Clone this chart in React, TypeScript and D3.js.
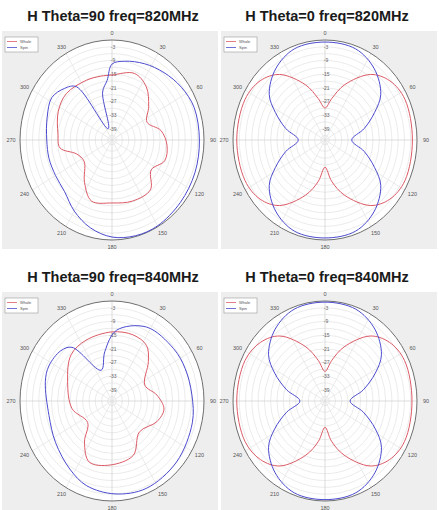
import React from "react";
import * as d3 from "d3";

const titles = [
  "H Theta=90 freq=820MHz",
  "H Theta=0 freq=820MHz",
  "H Theta=90 freq=840MHz",
  "H Theta=0 freq=840MHz",
];
const seriesNames = ["Whole", "Spin"];
const radialTicks = [-3, -9, -15, -21, -27, -33, -39];
const ringLevels = [-42, -39, -36, -33, -30, -27, -24, -21, -18, -15, -12, -9, -6, -3];
const angleTicks = [0, 30, 60, 90, 120, 150, 180, 210, 240, 270, 300, 330];
const rMin = -44;
const rMax = 0;

// Panel 1: H Theta=90, 820 MHz
const p1RedAngles = [0, 20, 35, 50, 65, 80, 95, 110, 125, 140, 160, 180, 200, 215, 235, 250, 262, 276, 296, 313, 335, 349];
const p1RedDb = [-15.4, -12.8, -15.4, -21.1, -25.5, -20.2, -17.6, -17.2, -21.1, -15.4, -15.4, -16.3, -15.4, -21.1, -27.7, -26, -18.9, -18, -15.4, -14.1, -15, -15.4];
const p1BlueAngles = [0, 10, 25, 40, 55, 70, 90, 110, 130, 150, 165, 180, 195, 210, 225, 240, 255, 270, 288, 303, 315, 324, 340, 348, 355];
const p1BlueDb = [-10.6, -8.8, -7, -5.3, -3.5, -2.2, -2.2, -1.8, -1.3, -0.4, -0.4, -1.3, -4, -7.9, -11.9, -12.8, -12.8, -12.8, -11.4, -9.7, -11.9, -15, -38.7, -22.4, -17.6];

// Panel 2: H Theta=0, 820 MHz
const p2RedAngles = [0, 10, 21, 37, 50, 65, 90, 115, 130, 143, 159, 170, 180, 190, 201, 217, 230, 245, 270, 295, 310, 323, 339, 350];
const p2RedDb = [-29.9, -25.5, -18, -7.9, -3.5, -1.8, -2.2, -1.8, -3.5, -7.9, -18, -25.5, -32, -25.5, -18, -7.9, -3.5, -1.8, -1.8, -1.8, -3.5, -7.9, -18, -25.5];
const p2BlueAngles = [0, 20, 37, 53, 63, 75, 90, 105, 117, 127, 143, 160, 180, 200, 217, 233, 243, 255, 270, 285, 297, 307, 323, 340];
const p2BlueDb = [-0.9, -1.3, -4.8, -10.6, -17.4, -24.6, -31.2, -24.6, -17.4, -10.6, -4.8, -1.3, -0.9, -1.3, -4.8, -10.6, -17.4, -24.6, -31.2, -24.6, -17.4, -10.6, -4.8, -1.3];

// Panel 3: H Theta=90, 840 MHz
const p3RedAngles = [0, 19, 34, 45, 66, 83, 98, 113, 136, 157, 182, 202, 216, 231, 260, 292, 316, 335];
const p3RedDb = [-13.6, -13.2, -14.5, -19.4, -26.8, -22.4, -18.9, -20.7, -25.1, -18, -15.8, -15, -21.6, -29, -24.6, -21.1, -15.8, -14.5];
const p3BlueAngles = [4, 27, 52, 68, 86, 104, 131, 157, 178, 198, 214, 236, 258, 285, 297, 312, 321, 339, 351];
const p3BlueDb = [-12.8, -7.5, -6.6, -6.2, -5.7, -4.4, -3.1, -2.2, -3.1, -4.8, -7.9, -11.4, -13.2, -11, -10.1, -11, -13.6, -29.5, -22];

// Panel 4: H Theta=0, 840 MHz
const p4RedAngles = [0, 10, 21, 37, 50, 65, 90, 115, 130, 143, 159, 170, 180, 190, 201, 217, 230, 245, 270, 295, 310, 323, 339, 350];
const p4RedDb = [-31, -26, -18.5, -8.2, -3.8, -2, -2.4, -2, -3.8, -8.2, -18.5, -26, -32.4, -26, -18.5, -8.2, -3.8, -1.8, -1.8, -1.8, -3.8, -8.2, -18.5, -26];
const p4BlueAngles = [0, 20, 37, 53, 63, 75, 90, 105, 117, 127, 143, 160, 180, 200, 217, 233, 243, 255, 270, 285, 297, 307, 323, 340];
const p4BlueDb = [-0.5, -1, -4.4, -10.2, -17, -25, -32, -25, -17, -10.2, -4.4, -1, -0.6, -1, -4.4, -10.2, -17, -25, -32, -25, -17, -10.2, -4.4, -1];

const panelSeries = [
  { red: [p1RedAngles, p1RedDb], blue: [p1BlueAngles, p1BlueDb] },
  { red: [p2RedAngles, p2RedDb], blue: [p2BlueAngles, p2BlueDb] },
  { red: [p3RedAngles, p3RedDb], blue: [p3BlueAngles, p3BlueDb] },
  { red: [p4RedAngles, p4RedDb], blue: [p4BlueAngles, p4BlueDb] },
];

const W = 439;
const H = 510;
const colX = [0, 219];
const rowY = [0, 261];
const RED = "#dc5a66";
const BLUE = "#4b4bcf";

function Panel({ idx }: { idx: number }) {
  const col = idx % 2;
  const row = Math.floor(idx / 2);
  const ox = colX[col];
  const oy = rowY[row];
  const cx = ox + (col === 0 ? 112 : 106);
  const cy = oy + 140;
  const rx = 92;
  const ry = 100;
  const rScale = d3.scaleLinear().domain([rMin, rMax]).range([0, 1]).clamp(true);
  const toRad = (a: number) => (a * Math.PI) / 180;
  const pt = (a: number, v: number): [number, number] => {
    const rho = rScale(v);
    return [cx + rho * rx * Math.sin(toRad(a)), cy - rho * ry * Math.cos(toRad(a))];
  };
  const line = d3.line<[number, number]>().curve(d3.curveCatmullRomClosed.alpha(0.5));
  const s = panelSeries[idx];
  const mk = (pair: number[][]) => line(pair[0].map((a, i) => pt(a, pair[1][i])));

  return (
    <g>
      <text
        x={ox + (col === 0 ? 113 : 108)}
        y={oy + 21}
        textAnchor="middle"
        fontFamily="Liberation Sans, Arial, sans-serif"
        fontWeight="bold"
        fontSize={14.5}
        fill="#1a1a1a"
      >
        {titles[idx]}
      </text>
      <rect x={ox + 2} y={oy + 31} width={216} height={218} fill="#eeeeee" />
      <ellipse cx={cx} cy={cy} rx={rx} ry={ry} fill="#ffffff" />
      {ringLevels.map((lv) => (
        <ellipse
          key={lv}
          cx={cx}
          cy={cy}
          rx={rScale(lv) * rx}
          ry={rScale(lv) * ry}
          fill="none"
          stroke="#e2e2e2"
          strokeWidth={0.7}
        />
      ))}
      {angleTicks.map((a) => {
        const [x2, y2] = pt(a, rMax);
        return (
          <line
            key={a}
            x1={cx}
            y1={cy}
            x2={x2}
            y2={y2}
            stroke={a % 90 === 0 ? "#cfcfcf" : "#e2e2e2"}
            strokeWidth={0.7}
          />
        );
      })}
      <ellipse cx={cx} cy={cy} rx={rx} ry={ry} fill="none" stroke="#6f6f6f" strokeWidth={1} />
      {radialTicks.map((t) => (
        <text
          key={t}
          x={cx + 1}
          y={cy - rScale(t) * ry + 2}
          textAnchor="middle"
          fontFamily="Liberation Sans, Arial, sans-serif"
          fontSize={5}
          fill="#666"
        >
          {t}
        </text>
      ))}
      {angleTicks.map((a) => (
        <text
          key={a}
          x={cx + (rx + 9) * Math.sin(toRad(a))}
          y={cy - (ry + 7) * Math.cos(toRad(a)) + 2}
          textAnchor="middle"
          fontFamily="Liberation Sans, Arial, sans-serif"
          fontSize={5.5}
          fill="#555"
        >
          {a}
        </text>
      ))}
      <path d={mk(s.red) || ""} fill="none" stroke={RED} strokeWidth={1} />
      <path d={mk(s.blue) || ""} fill="none" stroke={BLUE} strokeWidth={1} />
      <g>
        <rect x={ox + 5} y={oy + 37} width={33} height={15} fill="#fff" stroke="#999" strokeWidth={0.6} />
        {seriesNames.map((n, i) => (
          <g key={n}>
            <line
              x1={ox + 7}
              x2={ox + 17}
              y1={oy + 41.5 + i * 6}
              y2={oy + 41.5 + i * 6}
              stroke={i === 0 ? RED : BLUE}
              strokeWidth={0.8}
            />
            <text
              x={ox + 20}
              y={oy + 43 + i * 6}
              fontFamily="Liberation Sans, Arial, sans-serif"
              fontSize={4}
              fill="#555"
            >
              {n}
            </text>
          </g>
        ))}
      </g>
    </g>
  );
}

export default function App() {
  return (
    <svg
      width={W}
      height={H}
      viewBox={`0 0 ${W} ${H}`}
      style={{ position: "absolute", left: 0, top: 0, background: "#fff" }}
    >
      <rect x={0} y={0} width={W} height={H} fill="#fff" />
      {[0, 1, 2, 3].map((i) => (
        <Panel key={i} idx={i} />
      ))}
    </svg>
  );
}
